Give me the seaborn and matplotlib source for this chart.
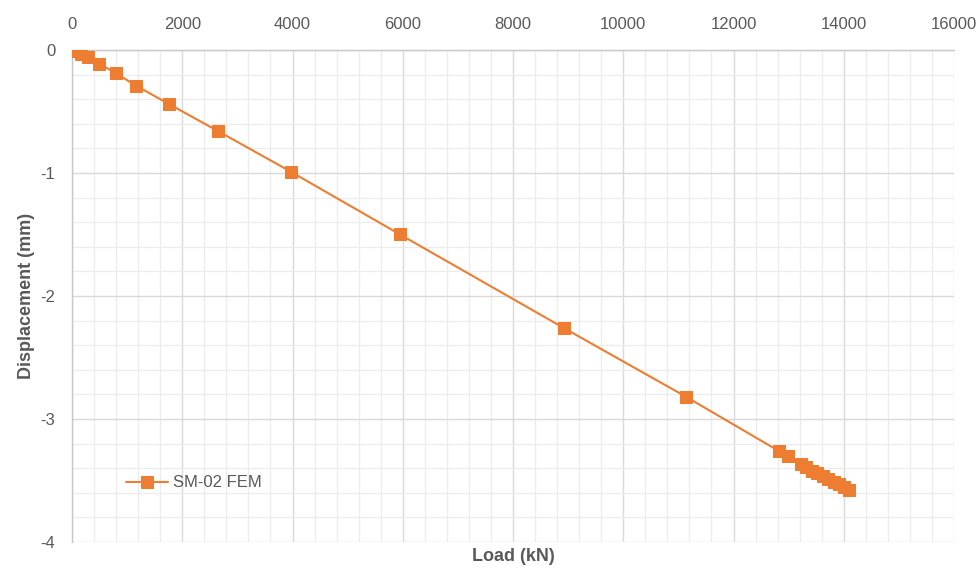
import matplotlib
matplotlib.use("Agg")
import matplotlib.pyplot as plt
import seaborn as sns
import pandas as pd
from matplotlib.ticker import MultipleLocator

load_kn = [70, 165, 290, 490, 800, 1160, 1760, 2650, 3970, 5950, 8920, 11140,
           12820, 12990, 13220, 13320, 13420, 13520, 13620, 13720, 13820, 13920, 14000, 14090]
disp_mm = [-0.01, -0.03, -0.06, -0.11, -0.19, -0.29, -0.44, -0.66, -0.99, -1.50, -2.26, -2.82,
           -3.26, -3.30, -3.37, -3.39, -3.42, -3.44, -3.46, -3.49, -3.51, -3.53, -3.55, -3.58]
series_name = "SM-02 FEM"
x_ticks = [0, 2000, 4000, 6000, 8000, 10000, 12000, 14000, 16000]
y_ticks = [0, -1, -2, -3, -4]

df = pd.DataFrame({"Load (kN)": load_kn, "Displacement (mm)": disp_mm, "series": series_name})

sns.set_style("white")
plt.rcParams["font.family"] = ["Liberation Sans", "DejaVu Sans"]

fig = plt.figure(figsize=(9.8, 5.68), dpi=100)
ax = fig.add_axes([0.0735, 0.0458, 0.9, 0.8662])

orange = "#ED7D31"
gray = "#595959"

sns.lineplot(data=df, x="Load (kN)", y="Displacement (mm)", hue="series",
             palette=[orange], marker="s", markersize=8, markeredgecolor=orange,
             linewidth=1.5, sort=False, ax=ax, zorder=3)

ax.set_xlim(0, 16000)
ax.set_ylim(-4, 0)
ax.set_xticks(x_ticks)
ax.set_yticks(y_ticks)
ax.xaxis.set_minor_locator(MultipleLocator(400))
ax.yaxis.set_minor_locator(MultipleLocator(0.2))
ax.grid(which="major", color="#d9d9d9", linewidth=1.0, zorder=0)
ax.grid(which="minor", color="#ececec", linewidth=0.9, zorder=0)
ax.set_axisbelow(True)

ax.xaxis.tick_top()
ax.xaxis.set_label_position("bottom")
ax.tick_params(axis="both", which="both", length=0, labelsize=12, colors=gray)
ax.tick_params(axis="x", pad=13)
ax.tick_params(axis="y", pad=12)
ax.set_xticklabels([str(v) for v in x_ticks])
ax.set_yticklabels([str(v) for v in y_ticks])

for s in ax.spines.values():
    s.set_visible(False)
for side in ("top", "left"):
    ax.spines[side].set_visible(True)
    ax.spines[side].set_color("#c8c8c8")
    ax.spines[side].set_linewidth(1.0)

ax.set_xlabel("Load (kN)", fontsize=13, fontweight="bold", color=gray, labelpad=4)
ax.set_ylabel("Displacement (mm)", fontsize=13, fontweight="bold", color=gray, labelpad=4)

leg = ax.legend(loc="center left", bbox_to_anchor=(0.044, 0.12), frameon=False,
                handlelength=2.5, fontsize=12, labelcolor=gray, handletextpad=0.35)

fig.savefig("out.png", dpi=100)
